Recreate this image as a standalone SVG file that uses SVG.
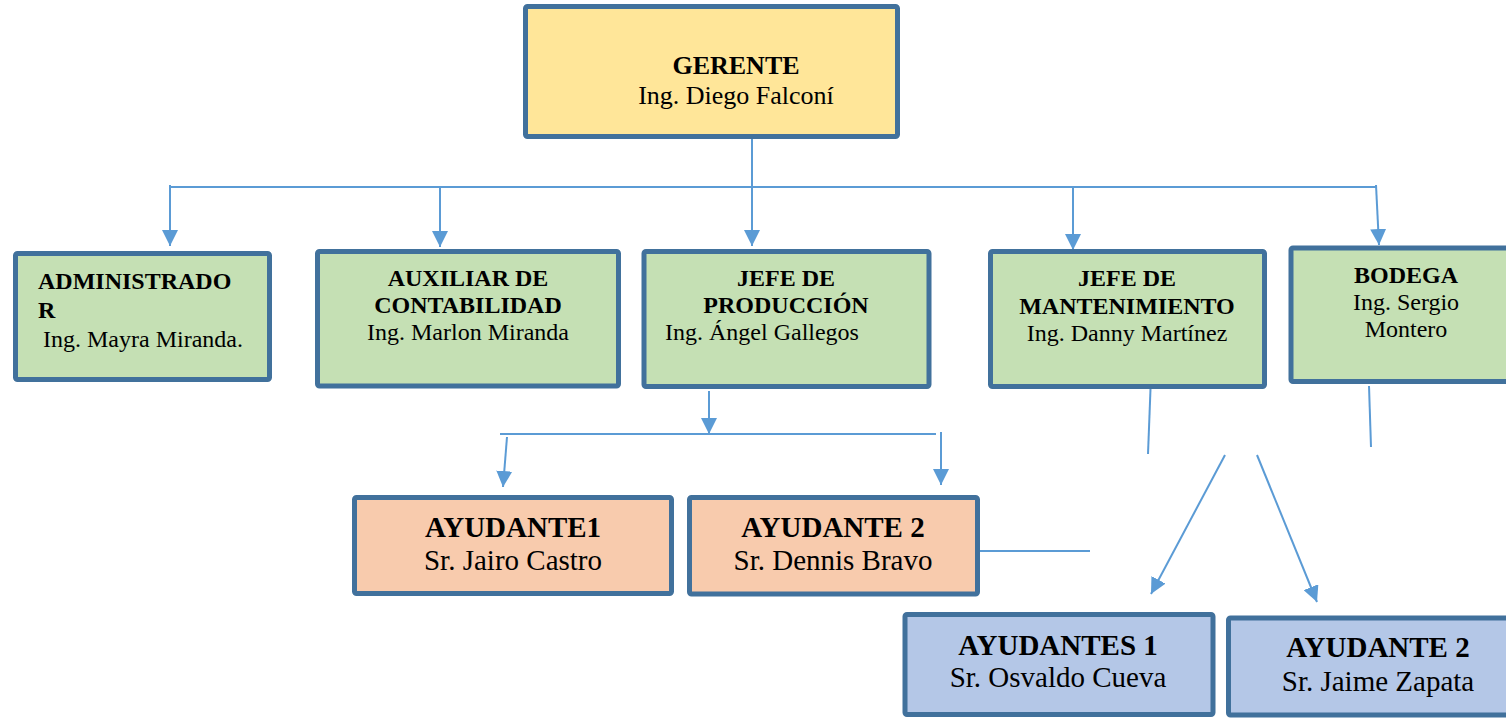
<svg xmlns="http://www.w3.org/2000/svg" width="1506" height="718" viewBox="0 0 1506 718">
<style>
.box{stroke:#41719C;stroke-width:5;}
.y{fill:#FFE699}.g{fill:#C5E0B4}.o{fill:#F8CBAD}.b{fill:#B4C7E7}
text{font-family:"Liberation Serif","Times New Roman",serif;fill:#000}
.t{font-weight:bold}
.s24{font-size:24px}.s26{font-size:26px}.s29{font-size:29px}
.c{text-anchor:middle}
.ln{stroke:#5B9BD5;stroke-width:2;fill:none}
</style>
<defs>
<marker id="ah" markerUnits="userSpaceOnUse" markerWidth="16" markerHeight="16" refX="16" refY="8" orient="auto">
<path d="M0,0 L16,8 L0,16 z" fill="#5B9BD5"/>
</marker>
</defs>
<rect width="1506" height="718" fill="#fff"/>
<g id="connectors">
<line class="ln" x1="752" y1="139" x2="752" y2="246" marker-end="url(#ah)"/>
<line class="ln" x1="170" y1="187" x2="1377" y2="187"/>
<line class="ln" x1="170" y1="185" x2="170" y2="246" marker-end="url(#ah)"/>
<line class="ln" x1="440" y1="187" x2="440" y2="247" marker-end="url(#ah)"/>
<line class="ln" x1="1073" y1="187" x2="1073" y2="250" marker-end="url(#ah)"/>
<line class="ln" x1="1376" y1="185" x2="1379" y2="245" marker-end="url(#ah)"/>
<line class="ln" x1="709" y1="391" x2="709" y2="434" marker-end="url(#ah)"/>
<line class="ln" x1="500" y1="434" x2="936" y2="434"/>
<line class="ln" x1="507" y1="437" x2="503" y2="487" marker-end="url(#ah)"/>
<line class="ln" x1="941" y1="432" x2="941" y2="485" marker-end="url(#ah)"/>
<line class="ln" x1="980" y1="551" x2="1090" y2="551"/>
<line class="ln" x1="1150.5" y1="389" x2="1148" y2="454"/>
<line class="ln" x1="1369" y1="386" x2="1371" y2="447"/>
<line class="ln" x1="1225" y1="455" x2="1151" y2="594" marker-end="url(#ah)"/>
<line class="ln" x1="1257" y1="455" x2="1317" y2="602" marker-end="url(#ah)"/>
</g>
<g id="gerente">
<rect class="box y" x="525.5" y="6.5" width="372" height="130" rx="2"/>
<text class="t s26 c" x="736" y="74">GERENTE</text>
<text class="s26 c" x="736" y="104">Ing. Diego Falconí</text>
</g>
<g id="administrador">
<rect class="box g" x="15.5" y="253.5" width="254" height="126" rx="2"/>
<text class="t s24" x="38" y="289">ADMINISTRADO</text>
<text class="t s24" x="38" y="318">R</text>
<text class="s24" x="43" y="347">Ing. Mayra Miranda.</text>
</g>
<g id="auxiliar">
<rect class="box g" x="317.5" y="251.5" width="301" height="134.5" rx="2"/>
<text class="t s24 c" x="468" y="286">AUXILIAR DE</text>
<text class="t s24 c" x="468" y="313">CONTABILIDAD</text>
<text class="s24 c" x="468" y="340">Ing. Marlon Miranda</text>
</g>
<g id="jefe-produccion">
<rect class="box g" x="644" y="251.5" width="285" height="135" rx="2"/>
<text class="t s24 c" x="786" y="286">JEFE DE</text>
<text class="t s24 c" x="786" y="313">PRODUCCIÓN</text>
<text class="s24" x="665" y="340">Ing. Ángel Gallegos</text>
</g>
<g id="jefe-mantenimiento">
<rect class="box g" x="990.5" y="251.5" width="274" height="135" rx="2"/>
<text class="t s24 c" x="1127" y="286">JEFE DE</text>
<text class="t s24 c" x="1127" y="314">MANTENIMIENTO</text>
<text class="s24 c" x="1127" y="341">Ing. Danny Martínez</text>
</g>
<g id="bodega">
<rect class="box g" x="1291" y="248" width="240" height="133.5" rx="2"/>
<text class="t s24 c" x="1406" y="283">BODEGA</text>
<text class="s24 c" x="1406" y="310">Ing. Sergio</text>
<text class="s24 c" x="1406" y="337">Montero</text>
</g>
<g id="ayudante1-prod">
<rect class="box o" x="354.5" y="497.5" width="317" height="96" rx="2"/>
<text class="t s29 c" x="513" y="537">AYUDANTE1</text>
<text class="s29 c" x="513" y="570">Sr. Jairo Castro</text>
</g>
<g id="ayudante2-prod">
<rect class="box o" x="689.5" y="497.5" width="288" height="96.5" rx="2"/>
<text class="t s29 c" x="833" y="537">AYUDANTE 2</text>
<text class="s29 c" x="833" y="570">Sr. Dennis Bravo</text>
</g>
<g id="ayudantes1-mant">
<rect class="box b" x="905" y="614.5" width="308" height="100" rx="2"/>
<text class="t s29 c" x="1058" y="655">AYUDANTES 1</text>
<text class="s29 c" x="1058" y="687">Sr. Osvaldo Cueva</text>
</g>
<g id="ayudante2-mant">
<rect class="box b" x="1228.5" y="618" width="300" height="97" rx="2"/>
<text class="t s29 c" x="1378" y="657">AYUDANTE 2</text>
<text class="s29 c" x="1378" y="691">Sr. Jaime Zapata</text>
</g>
</svg>
